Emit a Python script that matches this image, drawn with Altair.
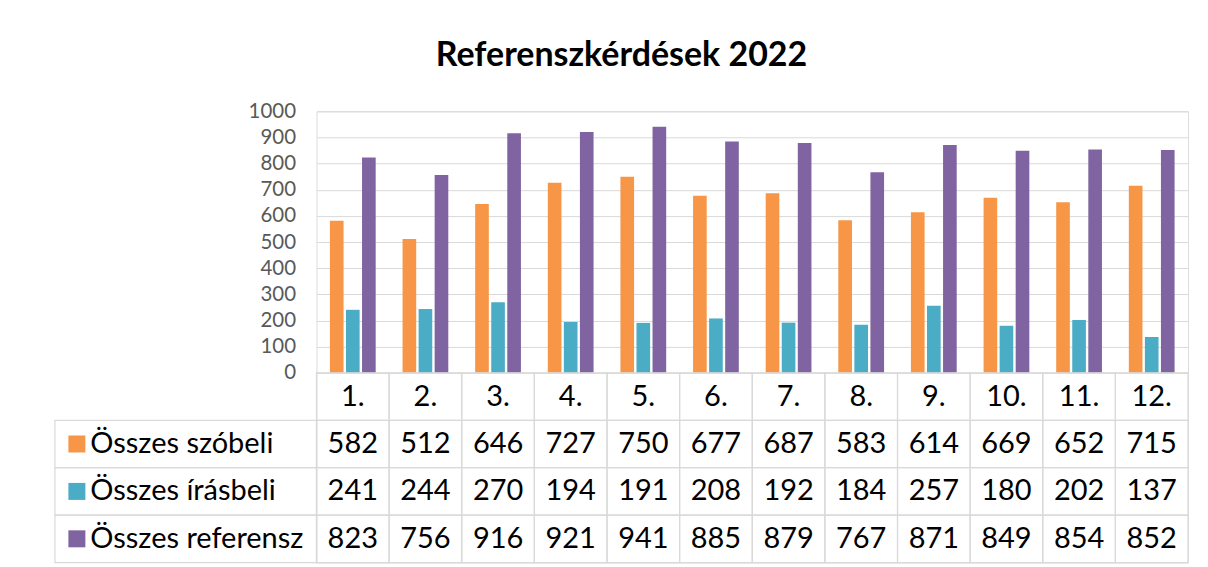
import altair as alt
import pandas as pd

months = ["1.", "2.", "3.", "4.", "5.", "6.", "7.", "8.", "9.", "10.", "11.", "12."]
series = ["Összes szóbeli", "Összes írásbeli", "Összes referensz"]
szobeli = [582, 512, 646, 727, 750, 677, 687, 583, 614, 669, 652, 715]
irasbeli = [241, 244, 270, 194, 191, 208, 192, 184, 257, 180, 202, 137]
referensz = [823, 756, 916, 921, 941, 885, 879, 767, 871, 849, 854, 852]
colors = ["#F79646", "#4BACC6", "#8064A2"]
y_ticks = [0, 100, 200, 300, 400, 500, 600, 700, 800, 900, 1000]

rows = []
for s, vals in zip(series, [szobeli, irasbeli, referensz]):
    for m, v in zip(months, vals):
        rows.append({"month": m, "series": s, "value": v, "text": str(v)})
df = pd.DataFrame(rows)
hdr = pd.DataFrame({"month": months, "series": [" "] * 12, "text": months})
cells = pd.concat([df[["month", "series", "text"]], hdr], ignore_index=True)
ser_df = pd.DataFrame({"series": series})

FONT = "Lato"
W = 873
row_domain = [" "] + series
grid_col = "#D9D9D9"

top = alt.Chart(df).mark_bar().encode(
    x=alt.X("month:N", sort=months,
            scale=alt.Scale(domain=months, paddingInner=0.37, paddingOuter=0.185),
            axis=None),
    xOffset=alt.XOffset("series:N", sort=series,
                        scale=alt.Scale(domain=series, paddingInner=0.15)),
    y=alt.Y("value:Q", scale=alt.Scale(domain=[0, 1000], nice=False),
            axis=alt.Axis(values=y_ticks, title=None, ticks=False, domain=False, format="d",
                          gridColor=grid_col, labelColor="#595959", labelFontSize=20.5,
                          labelFont=FONT, labelPadding=21)),
    color=alt.Color("series:N", sort=series,
                    scale=alt.Scale(domain=series, range=colors), legend=None),
).properties(width=W, height=262)

xs = alt.X("month:N", sort=months, scale=alt.Scale(domain=months, paddingInner=0, paddingOuter=0), axis=None)
ys = alt.Y("series:N", sort=row_domain,
           scale=alt.Scale(domain=row_domain, paddingInner=0, paddingOuter=0),
           axis=alt.Axis(title=None, ticks=False, domain=False, labelAlign="left",
                         labelPadding=227, labelFontSize=29, labelFont=FONT,
                         labelColor="#000000", labelLimit=0, zindex=1))

cell_rects = alt.Chart(cells).mark_rect(fillOpacity=0, stroke=grid_col, strokeWidth=1.2).encode(
    x=xs, y=ys)
label_rects = alt.Chart(ser_df).mark_rect(fillOpacity=0, stroke=grid_col, strokeWidth=1.2).encode(
    x=alt.value(-262), x2=alt.value(0), y=alt.Y("series:N", sort=row_domain))
squares = alt.Chart(ser_df).mark_square(size=290, opacity=1).encode(
    x=alt.value(-240), y=alt.Y("series:N", sort=row_domain),
    color=alt.Color("series:N", scale=alt.Scale(domain=series, range=colors), legend=None))
texts = alt.Chart(cells).mark_text(fontSize=29, font=FONT, color="#000000").encode(
    x=xs, y=ys, text="text:N")

table = alt.layer(cell_rects, label_rects, squares, texts).properties(width=W, height=190)

chart = alt.vconcat(top, table, spacing=0, bounds="flush").resolve_scale(
    x="independent", y="independent", color="independent"
).properties(
    title=alt.TitleParams("Referenszkérdések 2022", font=FONT, fontSize=34,
                          fontWeight="bold", color="#000000", anchor="middle", offset=28),
    padding={"left": 45, "top": 30, "right": 10, "bottom": 5},
).configure_view(stroke=None).configure(background="white")

chart.save("out.html", embed_options={"renderer": "svg", "actions": False})
